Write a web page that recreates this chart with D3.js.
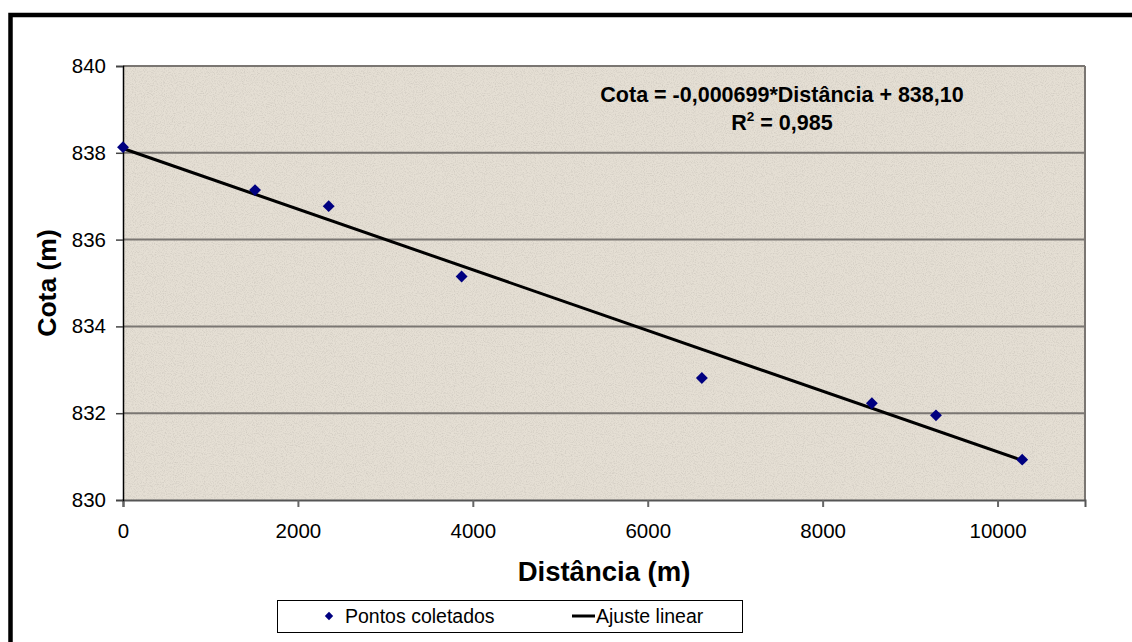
<!DOCTYPE html>
<html>
<head>
<meta charset="utf-8">
<script src="https://cdn.jsdelivr.net/npm/d3@7"></script>
<style>
  html, body { margin: 0; padding: 0; background: #fff; }
  svg { display: block; font-family: "Liberation Sans", Arial, sans-serif; }
</style>
</head>
<body>
<div id="chart"></div>
<script>
//DATA
const distancia = [0, 1510, 2352, 3872, 6619, 8563, 9296, 10282];
const cota = [838.13, 837.14, 836.77, 835.15, 832.81, 832.23, 831.95, 830.93];
const xTicks = [0, 2000, 4000, 6000, 8000, 10000];
const yTicks = [830, 832, 834, 836, 838, 840];
const fit = [-0.000699, 838.10]; // slope, intercept
const legendLabels = ['Pontos coletados', 'Ajuste linear'];

//LAYOUT
const W = 1132, H = 642;
const plot = { left: 123, top: 66, right: 1085, bottom: 500 };

const svg = d3.select('#chart').append('svg').attr('width', W).attr('height', H);

//TEXTURE
const defs = svg.append('defs');
const filt = defs.append('filter').attr('id', 'paper').attr('x', 0).attr('y', 0).attr('width', 1).attr('height', 1);
filt.append('feTurbulence').attr('type', 'fractalNoise').attr('baseFrequency', 0.9).attr('numOctaves', 2).attr('seed', 3).attr('result', 'noise');
filt.append('feColorMatrix').attr('in', 'noise').attr('type', 'matrix')
    .attr('values', '0 0 0 0 0.45  0 0 0 0 0.42  0 0 0 0 0.38  0 0 0 -2.2 1.25')
    .attr('result', 'spots');
filt.append('feComposite').attr('in', 'spots').attr('in2', 'SourceGraphic').attr('operator', 'in');

//SCALES
const x = d3.scaleLinear().domain([0, 11000]).range([plot.left, plot.right]);
const y = d3.scaleLinear().domain([830, 840]).range([plot.bottom, plot.top]);

//PLOT AREA
svg.append('rect')
    .attr('x', plot.left).attr('y', plot.top)
    .attr('width', plot.right - plot.left).attr('height', plot.bottom - plot.top)
    .attr('fill', '#e5dfd4');
svg.append('rect')
    .attr('x', plot.left).attr('y', plot.top)
    .attr('width', plot.right - plot.left).attr('height', plot.bottom - plot.top)
    .attr('fill', '#e5dfd4')
    .attr('filter', 'url(#paper)')
    .attr('opacity', 0.4);

//GRID
svg.append('g').selectAll('line').data(yTicks.slice(1))
    .enter().append('line')
    .attr('x1', plot.left).attr('x2', plot.right)
    .attr('y1', d => y(d)).attr('y2', d => y(d))
    .attr('stroke', '#7a7672').attr('stroke-width', 2);
svg.append('line')
    .attr('x1', plot.right).attr('x2', plot.right)
    .attr('y1', plot.top).attr('y2', plot.bottom)
    .attr('stroke', '#7a7672').attr('stroke-width', 2);

//AXES
const xAxis = svg.append('g')
    .attr('transform', `translate(0,${plot.bottom})`)
    .call(d3.axisBottom(x).tickValues(xTicks).tickSize(7).tickPadding(16).tickFormat(d3.format('d')));
xAxis.select('.domain').attr('stroke', '#555').attr('stroke-width', 2);
xAxis.selectAll('.tick line').attr('stroke', '#666').attr('stroke-width', 2);
xAxis.selectAll('.tick text').attr('font-size', 20.5).attr('fill', '#000')
    .attr('font-family', '"Liberation Sans", Arial, sans-serif');

const yAxis = svg.append('g')
    .attr('transform', `translate(${plot.left},0)`)
    .call(d3.axisLeft(y).tickValues(yTicks).tickSize(7).tickPadding(10).tickFormat(d3.format('d')));
yAxis.select('.domain').attr('stroke', '#000').attr('stroke-width', 1.5);
yAxis.selectAll('.tick line').attr('stroke', '#444').attr('stroke-width', 1.5);
yAxis.selectAll('.tick text').attr('font-size', 20.5).attr('fill', '#000')
    .attr('font-family', '"Liberation Sans", Arial, sans-serif');

//TREND LINE
const xMax = d3.max(distancia);
svg.append('line')
    .attr('x1', x(0)).attr('y1', y(fit[1]))
    .attr('x2', x(xMax)).attr('y2', y(fit[0] * xMax + fit[1]))
    .attr('stroke', '#000').attr('stroke-width', 3);

//POINTS
const diamond = d3.symbol().type(d3.symbolDiamond2).size(90);
svg.append('g').selectAll('path').data(distancia)
    .enter().append('path')
    .attr('d', diamond)
    .attr('transform', (d, i) => `translate(${x(d)},${y(cota[i])})`)
    .attr('fill', '#000080');

//EQUATION
svg.append('text')
    .attr('x', 782).attr('y', 102)
    .attr('text-anchor', 'middle')
    .attr('font-size', 21.5).attr('font-weight', 'bold')
    .text('Cota = -0,000699*Distância + 838,10');
const r2 = svg.append('text')
    .attr('x', 782).attr('y', 130)
    .attr('text-anchor', 'middle')
    .attr('font-size', 21.5).attr('font-weight', 'bold');
r2.append('tspan').text('R');
r2.append('tspan').attr('font-size', 13.5).attr('dy', -9).text('2');
r2.append('tspan').attr('dy', 9).text(' = 0,985');

//AXIS TITLES
svg.append('text')
    .attr('x', (plot.left + plot.right) / 2).attr('y', 581)
    .attr('text-anchor', 'middle')
    .attr('font-size', 27.5).attr('font-weight', 'bold')
    .text('Distância (m)');
svg.append('text')
    .attr('transform', `translate(56,${(plot.top + plot.bottom) / 2}) rotate(-90)`)
    .attr('text-anchor', 'middle')
    .attr('font-size', 26.5).attr('font-weight', 'bold')
    .text('Cota (m)');

//LEGEND
const legend = svg.append('g');
legend.append('rect')
    .attr('x', 277.5).attr('y', 600.5).attr('width', 465).attr('height', 32)
    .attr('fill', '#fff').attr('stroke', '#000').attr('stroke-width', 1);
legend.append('path')
    .attr('d', d3.symbol().type(d3.symbolDiamond2).size(45))
    .attr('transform', 'translate(329,616)')
    .attr('fill', '#000080');
legend.append('text')
    .attr('x', 345).attr('y', 623)
    .attr('font-size', 19.5)
    .text(legendLabels[0]);
legend.append('line')
    .attr('x1', 572).attr('x2', 595).attr('y1', 616).attr('y2', 616)
    .attr('stroke', '#000').attr('stroke-width', 3);
legend.append('text')
    .attr('x', 596).attr('y', 623)
    .attr('font-size', 19.5)
    .text(legendLabels[1]);

//FRAME
svg.append('rect')
    .attr('x', 10.5).attr('y', 15)
    .attr('width', W + 20).attr('height', H + 20)
    .attr('fill', 'none').attr('stroke', '#000').attr('stroke-width', 4.5);
</script>
</body>
</html>
